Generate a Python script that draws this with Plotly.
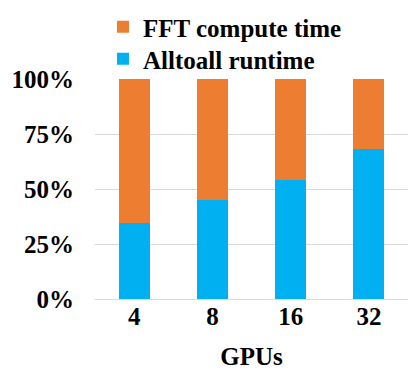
import plotly.graph_objects as go

gpus = ["4", "8", "16", "32"]
alltoall_pct = [34.5, 44.8, 53.9, 68.2]
fft_pct = [100 - v for v in alltoall_pct]
y_ticks = [0, 25, 50, 75, 100]
y_tick_labels = ["0%", "25%", "50%", "75%", "100%"]

FONT = "Liberation Serif, Times New Roman, serif"
FS = 25
W, H = 408, 370

fig = go.Figure()
fig.add_trace(go.Bar(x=gpus, y=alltoall_pct, name="Alltoall runtime", legend="legend2",
                     marker=dict(color="#00B0F0", line=dict(width=0))))
fig.add_trace(go.Bar(x=gpus, y=fft_pct, name="FFT compute time", legend="legend",
                     marker=dict(color="#ED7D31", line=dict(width=0))))

bold = dict(family=FONT, size=FS, color="black", weight="bold")


def leg(top_px):
    return dict(
        orientation="v",
        x=103 / W, y=1 - top_px / H, xref="container", yref="container",
        xanchor="left", yanchor="top",
        font=bold,
        bgcolor="rgba(0,0,0,0)",
        itemwidth=30,
    )


fig.update_layout(
    width=W, height=H,
    barmode="stack", bargap=0.605,
    margin=dict(l=95, r=0, t=79, b=71, autoexpand=False),
    plot_bgcolor="white", paper_bgcolor="white",
    font=dict(family=FONT, size=FS, color="black"),
    showlegend=True,
    legend=leg(4),
    legend2=leg(36),
    xaxis=dict(
        type="category",
        showgrid=False,
        showline=False,
        ticks="",
        tickfont=bold,
        title=dict(text="GPUs", font=bold, standoff=25),
    ),
    yaxis=dict(
        range=[0, 100],
        tickvals=y_ticks,
        ticktext=y_tick_labels,
        showgrid=True, gridcolor="#D9D9D9", gridwidth=1,
        zeroline=True, zerolinecolor="#D9D9D9", zerolinewidth=1,
        showline=False,
        ticks="",
        ticklabelstandoff=20,
        tickfont=bold,
    ),
)

fig.write_html("out.html", config={"displayModeBar": False},
               post_script="document.body.style.margin='0';")
